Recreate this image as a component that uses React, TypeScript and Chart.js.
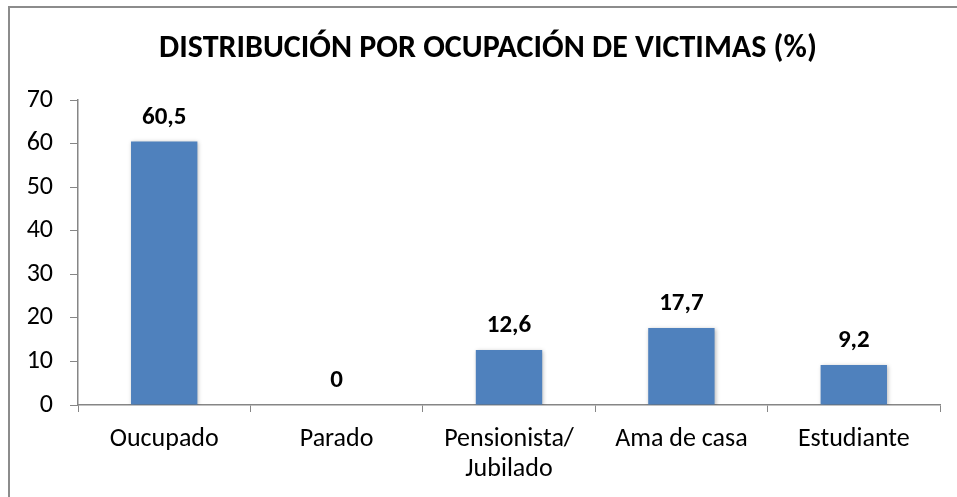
import React, { useEffect, useRef } from "react";
import { Chart, registerables } from "chart.js";

Chart.register(...registerables);

const titleText = "DISTRIBUCIÓN POR OCUPACIÓN DE VICTIMAS (%)";
const categories: (string | string[])[] = [
  "Oucupado",
  "Parado",
  ["Pensionista/", "Jubilado"],
  "Ama de casa",
  "Estudiante",
];
const values = [60.5, 0, 12.6, 17.7, 9.2];
const yTicks = [0, 10, 20, 30, 40, 50, 60, 70];

const FONT = 'Carlito, Calibri, "Liberation Sans Narrow", "Open Sans", sans-serif';
const AXIS = "#868686";
const BAR = "#4F81BD";

const frame = {
  id: "frame",
  beforeDraw(chart: any) {
    const ctx = chart.ctx;
    ctx.save();
    ctx.fillStyle = "#ffffff";
    ctx.fillRect(0, 0, chart.width, chart.height);
    ctx.strokeStyle = "#8c8c8c";
    ctx.lineWidth = 2;
    ctx.beginPath();
    ctx.moveTo(9, chart.height);
    ctx.lineTo(9, 7);
    ctx.lineTo(chart.width, 7);
    ctx.stroke();
    ctx.restore();
  },
};

const titleDraw = {
  id: "titleDraw",
  afterDraw(chart: any) {
    const ctx = chart.ctx;
    ctx.save();
    ctx.fillStyle = "#000000";
    ctx.font = `bold 32px ${FONT}`;
    ctx.textAlign = "center";
    ctx.textBaseline = "middle";
    ctx.fillText(titleText, 488, 48.5);
    ctx.restore();
  },
};

const shadow = {
  id: "shadow",
  beforeDatasetsDraw(chart: any) {
    const ctx = chart.ctx;
    ctx.save();
    ctx.shadowColor = "rgba(0,0,0,0.28)";
    ctx.shadowBlur = 4;
    ctx.shadowOffsetX = 1;
    ctx.shadowOffsetY = 1;
  },
  afterDatasetsDraw(chart: any) {
    chart.ctx.restore();
  },
};

const dataLabels = {
  id: "dataLabels",
  afterDatasetsDraw(chart: any) {
    const ctx = chart.ctx;
    const meta = chart.getDatasetMeta(0);
    ctx.save();
    ctx.fillStyle = "#000000";
    ctx.font = `bold 25px ${FONT}`;
    ctx.textAlign = "center";
    ctx.textBaseline = "middle";
    meta.data.forEach((bar: any, i: number) => {
      const v = values[i];
      const txt = String(v).replace(".", ",");
      ctx.fillText(txt, bar.x, bar.y - 24);
    });
    ctx.restore();
  },
};

export default function App() {
  const ref = useRef<HTMLCanvasElement>(null);
  useEffect(() => {
    document.body.style.margin = "0";
    const chart = new Chart(ref.current!, {
      type: "bar",
      data: {
        labels: categories,
        datasets: [
          {
            data: values,
            backgroundColor: BAR,
            borderWidth: 0,
            categoryPercentage: 1,
            barPercentage: 0.385,
          },
        ],
      },
      options: {
        animation: false,
        responsive: false,
        layout: { padding: { left: 0, right: 17, top: 100, bottom: 0 } },
        plugins: {
          legend: { display: false },
          tooltip: { enabled: false },
          title: { display: false },
        },
        scales: {
          x: {
            offset: true,
            grid: {
              offset: true,
              drawOnChartArea: false,
              color: AXIS,
              tickLength: 7,
              tickColor: AXIS,
            },
            border: { color: AXIS, width: 1.5 },
            ticks: {
              color: "#000000",
              font: { family: FONT, size: 26, lineHeight: 1.154 },
              padding: 12,
              maxRotation: 0,
              autoSkip: false,
            },
            afterFit(scale: any) {
              scale.height = 92;
            },
          },
          y: {
            min: 0,
            max: 70,
            afterBuildTicks(scale: any) {
              scale.ticks = yTicks.map((v) => ({ value: v }));
            },
            grid: {
              drawOnChartArea: false,
              color: AXIS,
              tickLength: 8,
              tickColor: AXIS,
            },
            border: { color: AXIS, width: 1.5 },
            ticks: {
              color: "#000000",
              font: { family: FONT, size: 26 },
              padding: 17,
            },
            afterFit(scale: any) {
              scale.width = 78;
            },
          },
        },
      },
      plugins: [frame, shadow, dataLabels, titleDraw],
    });
    return () => chart.destroy();
  }, []);
  return <canvas ref={ref} width={957} height={497} style={{ display: "block" }} />;
}
